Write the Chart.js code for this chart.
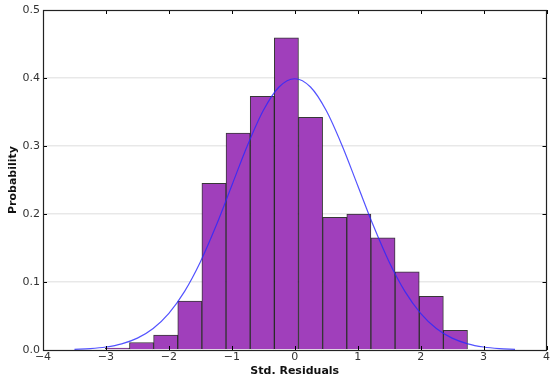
<!DOCTYPE html>
<html>
<head>
<meta charset="utf-8">
<script src="https://cdn.jsdelivr.net/npm/chart.js@4"></script>
<style>
  html, body { margin: 0; padding: 0; background: #fff; }
  #wrap { width: 551px; height: 378px; }
</style>
</head>
<body>
<div id="wrap"><canvas id="histChart" width="551" height="378"></canvas></div>
<script>
// histogram bins (std. residuals) and heights
var binEdges = [-3.01, -2.626, -2.243, -1.859, -1.475, -1.092, -0.708, -0.324, 0.059, 0.443, 0.827, 1.210, 1.594, 1.978, 2.361, 2.745];
var binHeights = [0.003, 0.011, 0.022, 0.072, 0.245, 0.319, 0.373, 0.459, 0.342, 0.195, 0.200, 0.165, 0.115, 0.079, 0.029];

// fitted normal curve
var curveX = [-3.5, -3.25, -3.0, -2.75, -2.5, -2.25, -2.0, -1.75, -1.5, -1.25, -1.0, -0.75, -0.5, -0.25, 0,
              0.25, 0.5, 0.75, 1.0, 1.25, 1.5, 1.75, 2.0, 2.25, 2.5, 2.75, 3.0, 3.25, 3.5];
var curveY = [0.0009, 0.0020, 0.0044, 0.0091, 0.0175, 0.0317, 0.0540, 0.0863, 0.1295, 0.1826, 0.2420, 0.3011, 0.3521, 0.3867, 0.3989,
              0.3867, 0.3521, 0.3011, 0.2420, 0.1826, 0.1295, 0.0863, 0.0540, 0.0317, 0.0175, 0.0091, 0.0044, 0.0020, 0.0009];

var xTicks = [-4, -3, -2, -1, 0, 1, 2, 3, 4];
var yTicks = [0, 0.1, 0.2, 0.3, 0.4, 0.5];

var barData = binHeights.map(function (h, i) {
    return { x: (binEdges[i] + binEdges[i + 1]) / 2, y: h };
});
var lineData = curveX.map(function (x, i) {
    return { x: x, y: curveY[i] };
});

// frame + inward ticks on all four sides (matplotlib style)
var framePlugin = {
    id: 'frame',
    afterDraw: function (chart) {
        var c = chart.ctx, a = chart.chartArea;
        var xs = chart.scales.x, ys = chart.scales.y;
        c.save();
        c.strokeStyle = '#000';
        c.lineWidth = 1;
        c.beginPath();
        xTicks.forEach(function (v) {
            var px = Math.round(xs.getPixelForValue(v)) + 0.5;
            c.moveTo(px, a.bottom); c.lineTo(px, a.bottom - 4);
            c.moveTo(px, a.top); c.lineTo(px, a.top + 4);
        });
        yTicks.forEach(function (v) {
            var py = Math.round(ys.getPixelForValue(v)) + 0.5;
            c.moveTo(a.left, py); c.lineTo(a.left + 4, py);
            c.moveTo(a.right, py); c.lineTo(a.right - 4, py);
        });
        c.stroke();
        c.strokeStyle = '#222';
        c.lineWidth = 1.2;
        c.strokeRect(Math.round(a.left) + 0.5, Math.round(a.top) + 0.5,
                     Math.round(a.right - a.left) - 1, Math.round(a.bottom - a.top));
        c.restore();
    }
};

var config = {
    data: {
        datasets: [
            {
                type: 'line',
                data: lineData,
                borderColor: 'rgba(40,40,255,0.8)',
                borderWidth: 1.2,
                pointRadius: 0,
                cubicInterpolationMode: 'monotone',
                fill: false,
                order: 0
            },
            {
                type: 'bar',
                data: barData,
                backgroundColor: '#a03fbb',
                borderColor: 'rgba(20,20,20,0.85)',
                borderWidth: 1,
                barPercentage: 1.0,
                categoryPercentage: 1.0,
                grouped: false,
                order: 1
            }
        ]
    },
    options: {
        responsive: false,
        animation: false,
        layout: { padding: { top: 10, right: 1, left: 0, bottom: 0 } },
        plugins: {
            legend: { display: false },
            title: { display: false },
            tooltip: { enabled: false }
        },
        scales: {
            x: {
                type: 'linear',
                min: -4,
                max: 4,
                offset: false,
                afterBuildTicks: function (s) { s.ticks = xTicks.map(function (v) { return { value: v }; }); },
                afterFit: function (s) { s.height = 28; },
                grid: { display: false, drawTicks: false, offset: false },
                border: { display: false },
                ticks: {
                    padding: 1,
                    color: '#333',
                    font: { family: 'DejaVu Sans', size: 11 },
                    maxRotation: 0,
                    callback: function (v) { return String(v).replace('-', '\u2212'); }
                },
                title: {
                    display: true,
                    text: 'Std. Residuals',
                    color: '#111',
                    font: { family: 'DejaVu Sans', size: 11, weight: 'bold' },
                    padding: { top: 0, bottom: 0 }
                }
            },
            y: {
                min: 0,
                max: 0.5,
                z: 1,
                afterBuildTicks: function (s) { s.ticks = yTicks.map(function (v) { return { value: v }; }); },
                afterFit: function (s) { s.width = 43; },
                grid: {
                    drawTicks: false,
                    color: function (ctx) {
                        var v = ctx.tick && ctx.tick.value;
                        return (v === 0 || v === 0.5) ? 'rgba(0,0,0,0)' : 'rgba(205,205,205,0.45)';
                    },
                    lineWidth: 1.5
                },
                border: { display: false },
                ticks: {
                    padding: 3,
                    color: '#333',
                    font: { family: 'DejaVu Sans', size: 11 },
                    callback: function (v) { return v.toFixed(1); }
                },
                title: {
                    display: true,
                    text: 'Probability',
                    color: '#111',
                    font: { family: 'DejaVu Sans', size: 11, weight: 'bold' },
                    padding: { top: 7, bottom: 0 }
                }
            }
        }
    },
    plugins: [framePlugin]
};

var ctx = document.getElementById("histChart").getContext("2d");
var histChart = new Chart(ctx, config);
</script>
</body>
</html>
